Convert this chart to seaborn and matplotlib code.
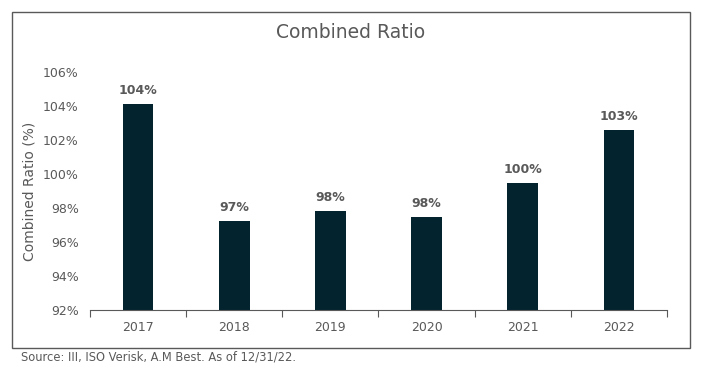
import matplotlib
matplotlib.use('Agg')
import matplotlib.pyplot as plt
from matplotlib.patches import Rectangle
from matplotlib.ticker import FuncFormatter, FixedLocator
import seaborn as sns
import pandas as pd

years = ["2017", "2018", "2019", "2020", "2021", "2022"]
ratios = [104.1, 97.25, 97.8, 97.5, 99.5, 102.6]
labels = ["104%", "97%", "98%", "98%", "100%", "103%"]

BAR = "#03232f"
GREY = "#595959"

df = pd.DataFrame({"year": years, "ratio": ratios})

sns.set_theme(style="white")
plt.rcParams['font.family'] = ['DejaVu Sans']

fig = plt.figure(figsize=(7.01, 3.8), dpi=100)
ax = fig.add_axes([90 / 701, 1 - 310 / 380, 577 / 701, 238 / 380])

sns.barplot(data=df, x="year", y="ratio", color=BAR, width=0.32,
            saturation=1, linewidth=0, ax=ax)

ax.set_ylim(92, 106)
ax.set_yticks(range(92, 107, 2))
ax.yaxis.set_major_formatter(FuncFormatter(lambda v, _: f"{v:.0f}%"))
ax.set_xlim(-0.5, len(years) - 0.5)

for i, (v, t) in enumerate(zip(ratios, labels)):
    ax.annotate(t, (i, v), xytext=(0, 5), textcoords="offset points",
                ha="center", va="bottom", fontsize=9, fontweight="bold",
                color=GREY)

for s in ["top", "right", "left"]:
    ax.spines[s].set_visible(False)
ax.spines["bottom"].set_color(GREY)
ax.spines["bottom"].set_linewidth(0.8)

ax.tick_params(axis="x", which="major", length=0, labelsize=9,
               labelcolor=GREY, pad=8)
ax.tick_params(axis="y", length=0, labelsize=9, labelcolor=GREY, pad=8)
ax.xaxis.set_minor_locator(FixedLocator([i - 0.5 for i in range(len(years) + 1)]))
ax.tick_params(axis="x", which="minor", length=5, color=GREY, width=0.8,
               direction="out", bottom=True)

ax.set_xlabel("")
ax.set_ylabel("Combined Ratio (%)", fontsize=10, color=GREY, labelpad=5)

fig.text(0.5, 1 - 33 / 380, "Combined Ratio", ha="center", va="center",
         fontsize=13.5, color=GREY)
fig.text(21 / 701, 1 - 357 / 380, "Source: III, ISO Verisk, A.M Best. As of 12/31/22.",
         ha="left", va="center", fontsize=8.3, color=GREY)

fig.patches.append(Rectangle((12 / 701, 1 - 348 / 380), 678 / 701, 336 / 380,
                             transform=fig.transFigure, fill=False,
                             edgecolor=GREY, linewidth=1))

fig.savefig("out.png", dpi=100)
